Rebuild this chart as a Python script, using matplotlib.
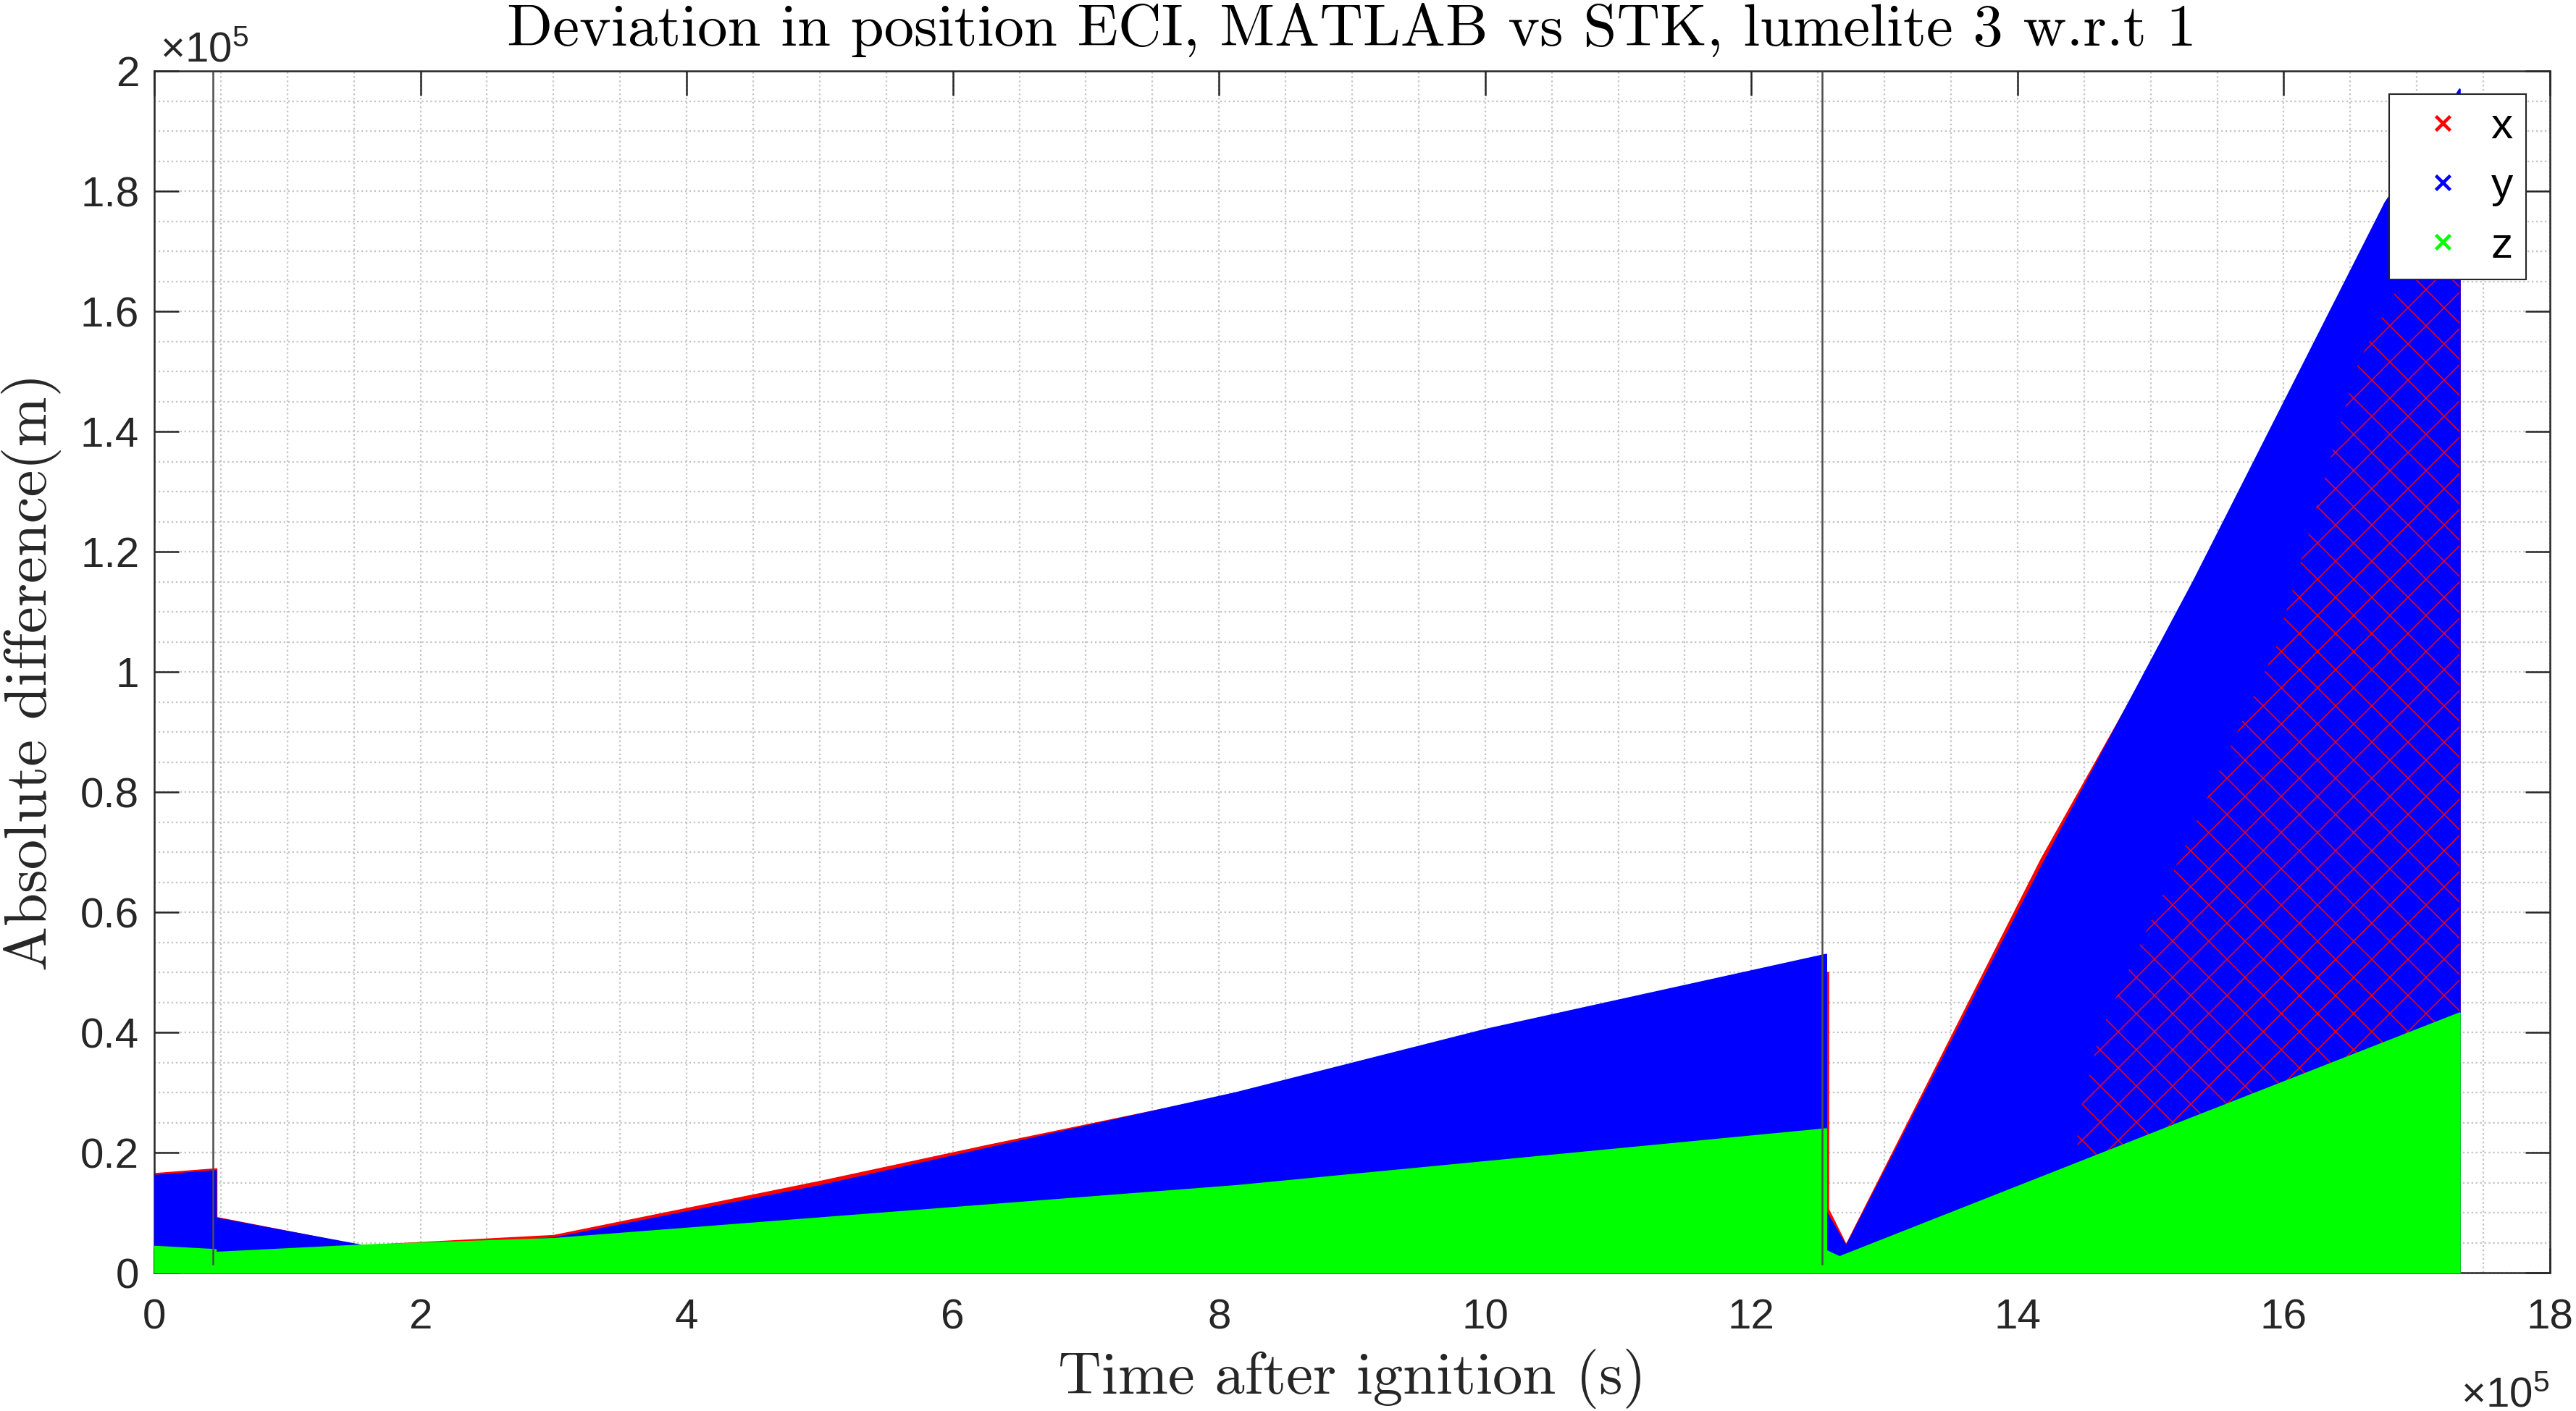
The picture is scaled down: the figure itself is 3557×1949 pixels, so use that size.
import matplotlib
matplotlib.use('Agg')
import matplotlib.pyplot as plt
from matplotlib.lines import Line2D
from matplotlib.ticker import MultipleLocator, FuncFormatter

# ---------------- data (seconds, metres) ----------------
# Upper envelopes of the dense marker clouds
x_seg1_t = [0, 46500]
x_seg1_top = [16500, 17300]
x_seg2_t = [46500, 155000, 300000, 500000, 626000, 813000, 1000000, 1257500]
x_seg2_top = [9200, 4500, 6200, 15200, 21200, 29800, 40300, 50000]
x_seg3_t = [1257500, 1271000, 1418000, 1532000, 1676000, 1732000]
x_seg3_top = [10600, 4600, 69000, 114000, 175000, 170000]

y_seg1_t = [0, 46000]
y_seg1_top = [16200, 17000]
y_seg2_t = [46000, 155000, 190000, 300000, 500000, 813000, 1000000, 1256000]
y_seg2_top = [9100, 4600, 4000, 5800, 14500, 30000, 40500, 53000]
y_seg3_t = [1256000, 1271000, 1418000, 1532000, 1676000, 1732000]
y_seg3_top = [10100, 4400, 67700, 115100, 178100, 197000]

z_seg1_t = [0, 46000]
z_seg1_top = [4400, 3850]
z_seg2_t = [46000, 155000, 300000, 813000, 1256000]
z_seg2_top = [3400, 4600, 5700, 14500, 23960]
z_seg3_t = [1256000, 1266000, 1516000, 1732000]
z_seg3_top = [3700, 2670, 24500, 43250]

# region where red (x) markers show through the blue (y) cloud
speckle_t = [1445000, 1445000, 1462000, 1594000, 1656000, 1700000, 1732000, 1732000]
speckle_v = [0, 25000, 40000, 104000, 151500, 170000, 172000, 0]

# manoeuvre / event lines
event_t = [44300, 1253000]
event_lo, event_hi = 1300, 200000

labels = ['x', 'y', 'z']
colors = ['#ff0000', '#0000ff', '#00ff00']

# ---------------- style ----------------
plt.rcParams['font.family'] = ['Liberation Sans', 'DejaVu Sans']
plt.rcParams['mathtext.fontset'] = 'custom'
plt.rcParams['mathtext.rm'] = 'Liberation Sans'
plt.rcParams['mathtext.default'] = 'regular'
plt.rcParams['hatch.linewidth'] = 0.35
AX_COL = '#262626'

fig = plt.figure(figsize=(3557 / 300, 1949 / 300), dpi=300)
ax = fig.add_axes([213 / 3557, 1 - 1758 / 1949, 3308 / 3557, 1660 / 1949])

series = [
    (colors[0], [(x_seg1_t, x_seg1_top), (x_seg2_t, x_seg2_top), (x_seg3_t, x_seg3_top)], 2),
    (colors[1], [(y_seg1_t, y_seg1_top), (y_seg2_t, y_seg2_top), (y_seg3_t, y_seg3_top)], 3),
    (colors[2], [(z_seg1_t, z_seg1_top), (z_seg2_t, z_seg2_top), (z_seg3_t, z_seg3_top)], 5),
]
for col, segs, zo in series:
    for t, top in segs:
        ax.fill_between(t, 0, top, facecolor=col, edgecolor=col, linewidth=0.6, zorder=zo)

ax.fill(speckle_t, speckle_v, facecolor='none', edgecolor=colors[0], hatch='xx',
        linewidth=0, zorder=4)

ax.vlines(event_t, event_lo, event_hi, colors='#4d4d4d', linewidth=0.6, zorder=6)

ax.set_xlim(0, 1.8e6)
ax.set_ylim(0, 2e5)
ax.xaxis.set_major_locator(MultipleLocator(2e5))
ax.xaxis.set_minor_locator(MultipleLocator(5e4))
ax.yaxis.set_major_locator(MultipleLocator(2e4))
ax.yaxis.set_minor_locator(MultipleLocator(5e3))
fmt = FuncFormatter(lambda v, p: '%g' % round(v / 1e5, 6))
ax.xaxis.set_major_formatter(fmt)
ax.yaxis.set_major_formatter(fmt)

ax.set_axisbelow(True)
ax.grid(which='both', color='#c4c4c4', linestyle=(0, (1, 1.6)), linewidth=0.55)
ax.tick_params(which='major', direction='in', length=8.2, width=0.6, top=True, right=True,
               labelsize=14, colors=AX_COL)
ax.tick_params(axis='x', which='major', pad=8.5)
ax.tick_params(axis='y', which='major', pad=5)
ax.tick_params(which='minor', length=0, top=True, right=True)
for s in ax.spines.values():
    s.set_linewidth(0.6)
    s.set_color(AX_COL)

# exponent labels
ax.text(0.0024, 1.008, '×10$^{5}$', transform=ax.transAxes, ha='left', va='baseline',
        fontsize=14, color=AX_COL)
ax.text(1.0, -0.111, '×10$^{5}$', transform=ax.transAxes, ha='right', va='baseline',
        fontsize=14, color=AX_COL)

# titles / labels in Computer Modern
ax.set_title('Deviation in position ECI, MATLAB vs STK, lumelite 3 w.r.t 1',
             fontfamily='cmr10', fontsize=19.9, y=1.0211, pad=0, va='baseline', color='black')
ax.set_xlabel('Time after ignition (s)', fontfamily='cmr10', fontsize=19.9, color=AX_COL)
ax.xaxis.label.set_va('baseline')
ax.xaxis.set_label_coords(0.5, -0.1006)
ax.set_ylabel('Absolute difference(m)', fontfamily='cmr10', fontsize=19.9, color=AX_COL)
ax.yaxis.label.set_va('center')
ax.yaxis.set_label_coords(-0.0511, 0.5)

handles = [Line2D([], [], color=c, marker='x', linestyle='none', markersize=5,
                  markeredgewidth=1.1) for c in colors]
leg = ax.legend(handles, labels, loc='upper right', bbox_to_anchor=(0.990, 0.9807),
                borderaxespad=0, fancybox=False, framealpha=1, edgecolor=AX_COL,
                fontsize=14.5, handlelength=1.85, handletextpad=0.18, borderpad=0.3,
                labelspacing=0.45)
leg.get_frame().set_linewidth(0.5)
leg.set_zorder(10)

fig.savefig('out.png', dpi=300)
